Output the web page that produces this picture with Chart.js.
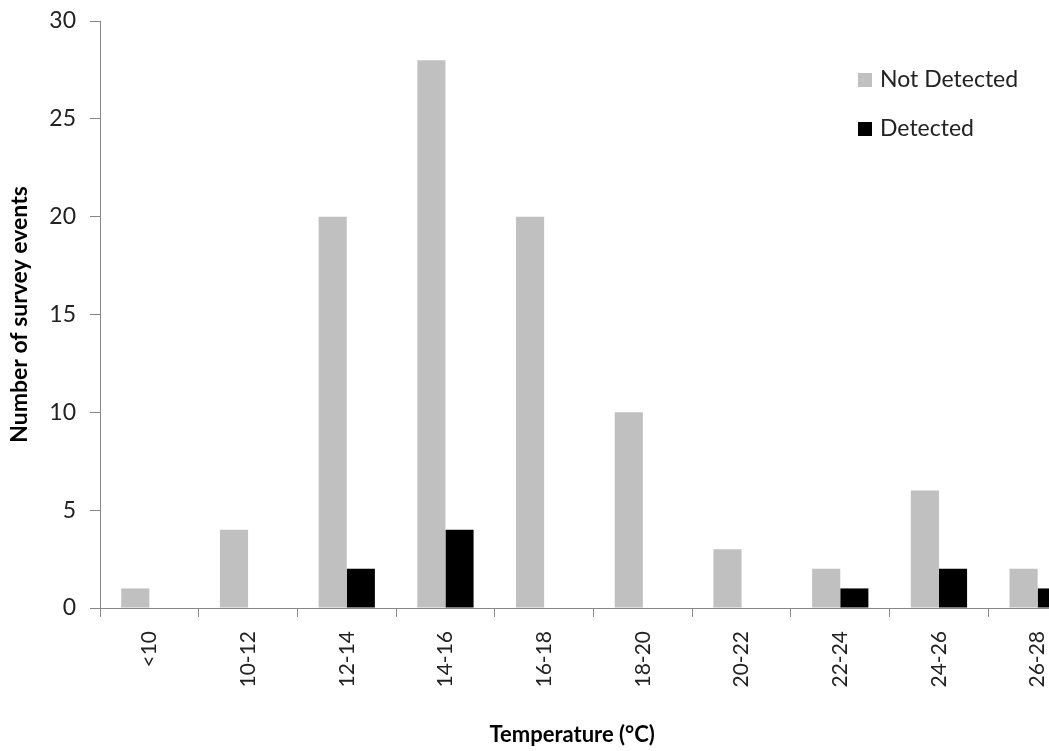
<!DOCTYPE html>
<html>
<head>
<meta charset="utf-8">
<script src="https://cdn.jsdelivr.net/npm/chart.js@4"></script>
<style>
  html, body { margin: 0; padding: 0; overflow: hidden; background: #fff; }
  #wrap { position: relative; width: 1090px; height: 751px; }
</style>
</head>
<body>
<div id="wrap"><canvas id="myChart"></canvas></div>
<script>
// Données
var categories = ['<10', '10-12', '12-14', '14-16', '16-18', '18-20', '20-22', '22-24', '24-26', '26-28'];
var nonDetectes = [1, 4, 20, 28, 20, 10, 3, 2, 6, 2];
var detectes = [0, 0, 2, 4, 0, 0, 0, 1, 2, 1];
var yTicks = [0, 5, 10, 15, 20, 25, 30];

document.addEventListener('DOMContentLoaded', function () {
    var ctx = document.getElementById('myChart').getContext('2d');

    // Légende dessinée dans la zone du graphique, en haut à droite
    var legendeInterne = {
      id: 'legendeInterne',
      afterDraw: function (chart) {
        var c = chart.ctx;
        var area = chart.chartArea;
        var x = area.right - 229;
        var y = 80;
        c.save();
        c.font = '23px Lato';
        c.textBaseline = 'middle';
        chart.data.datasets.forEach(function (ds) {
          c.fillStyle = ds.backgroundColor;
          c.fillRect(x, y - 7, 14, 14);
          c.fillStyle = '#222';
          c.fillText(ds.label, x + 22, y);
          y += 49;
        });
        c.restore();
      }
    };

    var config = {
      type: 'bar',
      data: {
        labels: categories,
        datasets: [{
          label: 'Not Detected',
          data: nonDetectes,
          backgroundColor: '#c0c0c0',
          categoryPercentage: 0.57,
          barPercentage: 1.0
        }, {
          label: 'Detected',
          data: detectes,
          backgroundColor: '#000000',
          categoryPercentage: 0.57,
          barPercentage: 1.0
        }]
      },
      options: {
        responsive: true,
        maintainAspectRatio: false,
        animation: false,
        layout: { padding: { top: 21, right: 3, bottom: 0, left: 0 } },
        plugins: {
          legend: { display: false },
          tooltip: { enabled: false }
        },
        scales: {
          x: {
            afterFit: function (scale) { scale.height = 143; },
            grid: { drawOnChartArea: false, tickLength: 9, color: '#868686', tickColor: '#868686' },
            border: { color: '#868686', width: 1 },
            ticks: {
              minRotation: 90, maxRotation: 90, padding: 14,
              color: '#222', font: { family: 'Lato', size: 21 }
            },
            title: {
              display: true,
              // espaces insécables pour décaler le titre vers la gauche comme l'original
              text: 'Temperature (°C)\u00a0\u00a0\u00a0\u00a0\u00a0\u00a0\u00a0\u00a0',
              color: '#000',
              font: { family: 'Lato', size: 22, weight: 'bold' },
              padding: { top: 0, bottom: 3 }
            }
          },
          y: {
            min: 0, max: 30,
            afterFit: function (scale) {
              scale.width = 100;
              // on ignore le débordement des étiquettes, la marge du haut est fixée par layout
              scale.paddingTop = 0;
              scale.paddingBottom = 0;
            },
            afterBuildTicks: function (scale) {
              scale.ticks = yTicks.map(function (v) { return { value: v }; });
            },
            grid: { drawOnChartArea: false, tickLength: 10, color: '#868686', tickColor: '#868686' },
            border: { color: '#868686', width: 1 },
            ticks: { padding: 14, color: '#222', font: { family: 'Lato', size: 23 } },
            title: {
              display: true, text: 'Number of survey events', color: '#000',
              font: { family: 'Lato', size: 23, weight: 'bold' },
              padding: { top: 6, bottom: 0 }
            }
          }
        }
      },
      plugins: [legendeInterne]
    };

    window.myChart = new Chart(ctx, config);
});
</script>
</body>
</html>
